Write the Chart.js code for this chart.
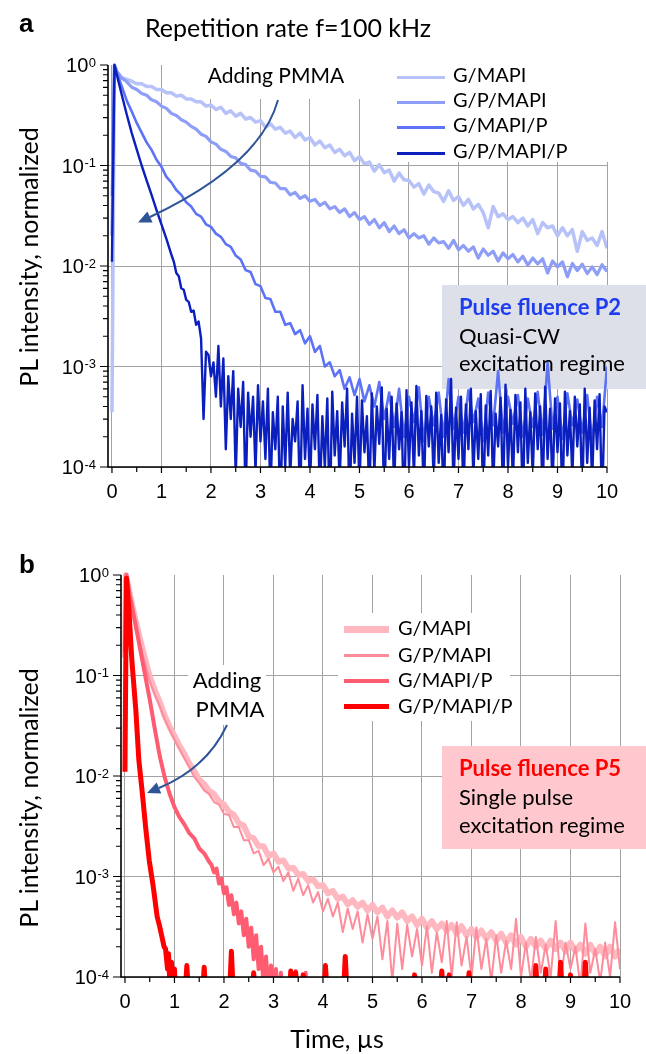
<!DOCTYPE html>
<html>
<head>
<meta charset="utf-8">
<script src="https://cdn.jsdelivr.net/npm/chart.js@4.4.1/dist/chart.umd.min.js"></script>
<style>
  body { margin: 0; width: 646px; height: 1054px; position: relative; background: #fff; overflow: hidden; font-family: Lato, sans-serif; }
  canvas { position: absolute; left: 0; }
  .t { position: absolute; white-space: nowrap; line-height: 1; color: #000; }
  .lab { font-family: "Liberation Sans", Arial, sans-serif; font-weight: bold; font-size: 26px; }
  .leg { font-size: 20px; }
  .smp { position: absolute; }
  .box { font-size: 22px; }
  .ytitle { font-size: 25px; transform: translate(-50%, -50%) rotate(-90deg); }
</style>
</head>
<body>
<canvas id="chartA" width="646" height="520" style="top:0"></canvas>
<canvas id="chartB" width="646" height="534" style="top:520px"></canvas>

<svg width="646" height="1054" style="position:absolute;left:0;top:0;pointer-events:none">
  <path d="M278,100 Q260,165 150,217" fill="none" stroke="#2f5597" stroke-width="2"/>
  <polygon points="138,222.6 152.6,222.4 147.4,211.6" fill="#2f5597"/>
  <path d="M227,725 Q207,768 159,788" fill="none" stroke="#2f5597" stroke-width="2"/>
  <polygon points="147,793 161.3,793.5 156.7,782.5" fill="#2f5597"/>
</svg>

<div class="t lab" style="left:19px;top:10px">a</div>
<div class="t lab" style="left:19px;top:551px">b</div>
<div class="t" style="left:145px;top:15px;font-size:25px">Repetition rate f=100 kHz</div>

<!-- panel a legend -->
<div class="smp" style="left:397px;top:75.5px;width:48px;height:3px;background:#b7c2f8"></div>
<div class="smp" style="left:397px;top:100.5px;width:48px;height:3px;background:#8e9df6"></div>
<div class="smp" style="left:397px;top:125.5px;width:48px;height:3px;background:#5d72f4"></div>
<div class="smp" style="left:397px;top:151.5px;width:48px;height:3px;background:#0b1fbe"></div>
<div class="t leg" style="left:453px;top:64px">G/MAPI</div>
<div class="t leg" style="left:453px;top:89px">G/P/MAPI</div>
<div class="t leg" style="left:453px;top:114px">G/MAPI/P</div>
<div class="t leg" style="left:453px;top:140px">G/P/MAPI/P</div>
<div class="t" style="left:176px;top:64px;width:200px;text-align:center;font-size:21px">Adding PMMA</div>
<div class="t box" style="left:459px;top:296px;font-weight:bold;color:#1e3cf0">Pulse fluence P2</div>
<div class="t box" style="left:459px;top:325px">Quasi-CW</div>
<div class="t box" style="left:459px;top:352px">excitation regime</div>
<div class="t ytitle" style="left:28px;top:257px">PL intensity, normalized</div>

<!-- panel b legend -->
<div class="smp" style="left:344px;top:625.5px;width:45px;height:7px;background:#ffb7c0"></div>
<div class="smp" style="left:344px;top:653.5px;width:45px;height:3px;background:#ff8c9b"></div>
<div class="smp" style="left:344px;top:678.7px;width:45px;height:4.5px;background:#ff5c72"></div>
<div class="smp" style="left:344px;top:703.5px;width:45px;height:5px;background:#ff0000"></div>
<div class="t leg" style="left:398px;top:617px">G/MAPI</div>
<div class="t leg" style="left:398px;top:644px">G/P/MAPI</div>
<div class="t leg" style="left:398px;top:669px">G/MAPI/P</div>
<div class="t leg" style="left:398px;top:695px">G/P/MAPI/P</div>
<div class="t" style="left:177px;top:669px;width:100px;text-align:center;font-size:22px">Adding</div>
<div class="t" style="left:180px;top:698px;width:100px;text-align:center;font-size:22px">PMMA</div>
<div class="t box" style="left:459px;top:757px;font-weight:bold;color:#ff0000">Pulse fluence P5</div>
<div class="t box" style="left:459px;top:786px">Single pulse</div>
<div class="t box" style="left:459px;top:814px">excitation regime</div>
<div class="t ytitle" style="left:28px;top:798px">PL intensity, normalized</div>
<div class="t" style="left:237px;top:1026px;width:200px;text-align:center;font-size:25px">Time, µs</div>

<script>
// ---- axis ticks ----
const xTickValues = [0, 1, 2, 3, 4, 5, 6, 7, 8, 9, 10];
const yTickValues = [1e-4, 1e-3, 1e-2, 1e-1, 1];
const yTickExps = ['-4', '-3', '-2', '-1', '0'];
const seriesNames = ['G/MAPI', 'G/P/MAPI', 'G/MAPI/P', 'G/P/MAPI/P'];

// time, µs
const tGrid = [
  0.1, 0.2, 0.3, 0.4, 0.5, 0.6, 0.7, 0.8, 0.9, 1,
  1.1, 1.2, 1.3, 1.4, 1.5, 1.6, 1.7, 1.8, 1.9, 2,
  2.1, 2.2, 2.3, 2.4, 2.5, 2.6, 2.7, 2.8, 2.9, 3,
  3.1, 3.2, 3.3, 3.4, 3.5, 3.6, 3.7, 3.8, 3.9, 4,
  4.1, 4.2, 4.3, 4.4, 4.5, 4.6, 4.7, 4.8, 4.9, 5,
  5.1, 5.2, 5.3, 5.4, 5.5, 5.6, 5.7, 5.8, 5.9, 6,
  6.1, 6.2, 6.3, 6.4, 6.5, 6.6, 6.7, 6.8, 6.9, 7,
  7.1, 7.2, 7.3, 7.4, 7.5, 7.6, 7.7, 7.8, 7.9, 8,
  8.1, 8.2, 8.3, 8.4, 8.5, 8.6, 8.7, 8.8, 8.9, 9,
  9.1, 9.2, 9.3, 9.4, 9.5, 9.6, 9.7, 9.8, 9.9, 10
];
const tFine = [
  1.25, 1.3, 1.35, 1.4, 1.45, 1.5, 1.55, 1.6, 1.65, 1.7, 1.75, 1.8, 1.85, 1.9, 1.95, 2,
  2.05, 2.1, 2.15, 2.2, 2.25, 2.3, 2.35, 2.4, 2.45, 2.5, 2.55, 2.6, 2.65, 2.7, 2.75, 2.8, 2.85, 2.9, 2.95, 3,
  3.05, 3.1, 3.15, 3.2, 3.25, 3.3, 3.35, 3.4, 3.45, 3.5, 3.55, 3.6, 3.65, 3.7, 3.75, 3.8, 3.85, 3.9, 3.95, 4,
  4.05, 4.1, 4.15, 4.2, 4.25, 4.3, 4.35, 4.4, 4.45, 4.5, 4.55, 4.6, 4.65, 4.7, 4.75, 4.8, 4.85, 4.9, 4.95, 5,
  5.05, 5.1, 5.15, 5.2, 5.25, 5.3, 5.35, 5.4, 5.45, 5.5, 5.55, 5.6, 5.65, 5.7, 5.75, 5.8, 5.85, 5.9, 5.95, 6,
  6.05, 6.1, 6.15, 6.2, 6.25, 6.3, 6.35, 6.4, 6.45, 6.5, 6.55, 6.6, 6.65, 6.7, 6.75, 6.8, 6.85, 6.9, 6.95, 7,
  7.05, 7.1, 7.15, 7.2, 7.25, 7.3, 7.35, 7.4, 7.45, 7.5, 7.55, 7.6, 7.65, 7.7, 7.75, 7.8, 7.85, 7.9, 7.95, 8,
  8.05, 8.1, 8.15, 8.2, 8.25, 8.3, 8.35, 8.4, 8.45, 8.5, 8.55, 8.6, 8.65, 8.7, 8.75, 8.8, 8.85, 8.9, 8.95, 9,
  9.05, 9.1, 9.15, 9.2, 9.25, 9.3, 9.35, 9.4, 9.45, 9.5, 9.55, 9.6, 9.65, 9.7, 9.75, 9.8, 9.85, 9.9, 9.95, 10
];

// ---- panel a: f = 100 kHz, fluence P2 ----
const aGMAPIhead = [[0, 3.5e-4], [0.05, 1]];
const aGMAPI = [
  0.85, 0.75, 0.72, 0.69, 0.65, 0.65, 0.61, 0.61, 0.57, 0.57,
  0.53, 0.53, 0.49, 0.50, 0.46, 0.46, 0.43, 0.43, 0.39, 0.40,
  0.36, 0.38, 0.33, 0.35, 0.31, 0.33, 0.29, 0.30, 0.27, 0.28,
  0.24, 0.26, 0.23, 0.24, 0.21, 0.22, 0.19, 0.21, 0.18, 0.19,
  0.16, 0.175, 0.15, 0.16, 0.135, 0.145, 0.125, 0.135, 0.112, 0.122,
  0.104, 0.108, 0.088, 0.102, 0.085, 0.09, 0.07, 0.084, 0.072, 0.071,
  0.061, 0.066, 0.052, 0.064, 0.055, 0.053, 0.044, 0.056, 0.045, 0.049,
  0.04, 0.046, 0.037, 0.041, 0.034, 0.024, 0.039, 0.031, 0.033, 0.029,
  0.031, 0.027, 0.03, 0.025, 0.029, 0.021, 0.027, 0.024, 0.025, 0.02,
  0.024, 0.02, 0.023, 0.014, 0.022, 0.018, 0.019, 0.016, 0.022, 0.015
];
const aGPMAPIhead = [[0, 0.02], [0.05, 1]];
const aGPMAPI = [
  0.86, 0.74, 0.68, 0.60, 0.57, 0.52, 0.50, 0.45, 0.43, 0.39,
  0.37, 0.33, 0.315, 0.285, 0.27, 0.245, 0.23, 0.205, 0.195, 0.172,
  0.163, 0.145, 0.138, 0.123, 0.119, 0.105, 0.102, 0.09, 0.088, 0.078,
  0.077, 0.068, 0.067, 0.059, 0.059, 0.051, 0.054, 0.047, 0.05, 0.044,
  0.046, 0.04, 0.043, 0.037, 0.039, 0.034, 0.037, 0.031, 0.034, 0.029,
  0.031, 0.026, 0.029, 0.024, 0.027, 0.022, 0.025, 0.021, 0.023, 0.019,
  0.021, 0.019, 0.02, 0.0165, 0.019, 0.017, 0.0175, 0.015, 0.018, 0.0145,
  0.016, 0.014, 0.0155, 0.012, 0.0148, 0.0128, 0.014, 0.0112, 0.0135, 0.0118,
  0.013, 0.011, 0.0125, 0.0102, 0.012, 0.0105, 0.0118, 0.0085, 0.0112, 0.0098,
  0.011, 0.0078, 0.0106, 0.009, 0.0104, 0.0084, 0.0098, 0.0082, 0.0103, 0.0088
];
const aGMAPIPhead = [[0, 0.05], [0.05, 1]];
const aGMAPIP = [
  0.84, 0.61, 0.44, 0.345, 0.265, 0.212, 0.17, 0.143, 0.114, 0.097,
  0.077, 0.068, 0.057, 0.051, 0.043, 0.039, 0.033, 0.031, 0.026, 0.0245,
  0.021, 0.0195, 0.0165, 0.0155, 0.0127, 0.0116, 0.0091, 0.0087, 0.0066, 0.0063,
  0.0048, 0.0047, 0.0035, 0.0035, 0.0026, 0.0027, 0.0021, 0.0023, 0.0017, 0.002,
  0.0014, 0.0016, 0.001, 0.0011, 0.0008, 0.00092, 0.0006, 0.00078, 0.00052, 0.00075,
  0.00045, 0.00065, 0.0004, 0.0007, 0.0003, 0.00055, 0.00025, 0.0006, 0.0002, 0.0005,
  0.00028, 0.00062, 0.00018, 0.0005, 0.00026, 0.00055, 0.0002, 0.00075, 0.00024, 0.0005,
  0.00022, 0.00058, 0.00028, 0.00048, 0.00018, 0.00055, 0.00026, 0.0009, 0.00022, 0.0005,
  0.00027, 0.00052, 0.0002, 0.00048, 0.00025, 0.00056, 0.00021, 0.0011, 0.00024, 0.0005,
  0.00019, 0.00054, 0.00026, 0.00047, 0.00022, 0.00052, 0.00018, 0.0005, 0.00025, 0.001
];
const aGPMAPIPhead = [[0, 0.011], [0.05, 1], [0.1, 0.79], [0.2, 0.5], [0.3, 0.32], [0.4, 0.21], [0.5, 0.145],
  [0.6, 0.1], [0.7, 0.071], [0.8, 0.051], [0.9, 0.036], [1, 0.026], [1.1, 0.0186], [1.2, 0.013]];
const aGPMAPIP = [
  0.011, 0.0085, 0.0079, 0.006, 0.0058, 0.0046, 0.0044, 0.0035, 0.0036, 0.0026, 0.0028, 0.0019, 0.0003, 0.0014, 0.0013, 0.0008,
  0.0011, 0.0005, 0.0016, 0.0004, 0.0012, 0.00015, 0.0008, 0.0003, 0.0009, 0.00008, 0.0006, 0.00025, 0.0007, 0.00005, 0.00055, 0.0002, 0.0005, 0.00009, 0.00065, 0.00018,
  4.5e-4, 1.2e-4, 6e-4, 0.5e-4, 3.5e-4, 1.5e-4, 5e-4, 0.3e-4, 4e-4, 1e-4, 5.5e-4, 0.8e-4, 3e-4, 1.8e-4, 4.5e-4, 0.4e-4, 6.5e-4, 1.2e-4, 3.8e-4, 0.6e-4,
  4.2e-4, 1.5e-4, 5.2e-4, 0.5e-4, 3.2e-4, 1e-4, 4.8e-4, 0.3e-4, 5.6e-4, 1.3e-4, 3.6e-4, 0.7e-4, 4.4e-4, 1.6e-4, 6e-4, 0.4e-4, 3.4e-4, 1.1e-4, 5e-4, 0.6e-4,
  4.6e-4, 1.4e-4, 3.2e-4, 0.5e-4, 5.4e-4, 0.9e-4, 4e-4, 1.7e-4, 6.2e-4, 0.4e-4, 3.8e-4, 1.2e-4, 5e-4, 0.6e-4, 4.3e-4, 1.5e-4, 3.5e-4, 0.3e-4, 5.8e-4, 1e-4,
  4.4e-4, 0.8e-4, 6.4e-4, 1.3e-4, 3.6e-4, 0.5e-4, 5.1e-4, 1.6e-4, 4e-4, 0.7e-4, 5.5e-4, 1.1e-4, 3.3e-4, 0.4e-4, 4.7e-4, 1.4e-4, 7.5e-4, 0.6e-4, 3.9e-4, 1.2e-4,
  5e-4, 0.5e-4, 4.2e-4, 1.5e-4, 6e-4, 0.8e-4, 3.6e-4, 1.2e-4, 5.3e-4, 0.4e-4, 4.1e-4, 1.3e-4, 5.7e-4, 0.6e-4, 3.4e-4, 1.6e-4, 4.9e-4, 0.5e-4, 6.6e-4, 1e-4,
  3.7e-4, 0.7e-4, 5.2e-4, 1.4e-4, 4.4e-4, 0.4e-4, 6e-4, 1.1e-4, 3.5e-4, 0.8e-4, 5.4e-4, 1.5e-4, 4e-4, 0.5e-4, 6.3e-4, 1.2e-4, 3.8e-4, 0.6e-4, 4.8e-4, 1.4e-4,
  4.3e-4, 0.4e-4, 5.6e-4, 1.3e-4, 3.6e-4, 0.8e-4, 5e-4, 1.6e-4, 4.2e-4, 0.5e-4, 6e-4, 1.1e-4, 3.9e-4, 0.7e-4, 4.6e-4, 1.5e-4, 5.3e-4, 0.4e-4, 4e-4, 3.5e-4
];

// ---- panel b: fluence P5 ----
const bGMAPIhead = [[0, 0.15], [0.02, 1]];
const bGMAPI = [
  0.63, 0.38, 0.235, 0.15, 0.098, 0.072, 0.055, 0.040, 0.031, 0.025,
  0.020, 0.0165, 0.0133, 0.0112, 0.0092, 0.0083, 0.0071, 0.0066, 0.0056, 0.0052,
  0.0044, 0.0041, 0.0034, 0.0032, 0.0025, 0.0024, 0.002, 0.002, 0.0016, 0.0017,
  0.0014, 0.00145, 0.0012, 0.00122, 0.00104, 0.00106, 0.0009, 0.00094, 0.0008, 0.00082,
  0.00068, 0.00072, 0.0006, 0.00063, 0.00053, 0.00058, 0.0005, 0.00055, 0.00046, 0.00052,
  0.00044, 0.00049, 0.0004, 0.00046, 0.00039, 0.00044, 0.00036, 0.0004, 0.00033, 0.00038,
  0.00031, 0.00036, 0.0003, 0.00034, 0.00029, 0.00033, 0.00027, 0.00032, 0.00026, 0.0003,
  0.00025, 0.00029, 0.00024, 0.00028, 0.00023, 0.00027, 0.00022, 0.00026, 0.00021, 0.00025,
  0.0002, 0.00024, 0.0002, 0.00023, 0.00019, 0.00023, 0.00019, 0.00022, 0.00018, 0.00022,
  0.00018, 0.00021, 0.00017, 0.00021, 0.00017, 0.0002, 0.00016, 0.0002, 0.00016, 0.00019
];
const bGPMAPIhead = [[0, 0.1], [0.02, 0.98]];
const bGPMAPI = [
  0.58, 0.34, 0.21, 0.135, 0.088, 0.065, 0.05, 0.037, 0.029, 0.023,
  0.0185, 0.015, 0.0122, 0.0098, 0.0085, 0.0072, 0.0066, 0.0055, 0.0052, 0.0042,
  0.0041, 0.0031, 0.0031, 0.0023, 0.0023, 0.0017, 0.0018, 0.0013, 0.0015, 0.0011,
  0.00125, 0.0009, 0.0011, 0.00072, 0.00095, 0.00065, 0.00082, 0.00055, 0.0007, 0.00045,
  0.0006, 0.0004, 0.00055, 0.00028, 0.00048, 0.0003, 0.00045, 0.00022, 0.00042, 0.00024,
  0.0004, 0.00015, 0.00036, 0.00009, 0.00034, 0.00012, 0.00033, 0.00016, 0.0003, 0.00013,
  0.00032, 0.00011, 0.00028, 0.00014, 0.00036, 0.0001, 0.00035, 0.00013, 0.00025, 0.0001,
  0.00031, 0.00012, 0.00024, 0.00009, 0.00026, 0.00011, 0.00023, 0.00012, 0.00038, 0.0001,
  0.00022, 0.00009, 0.00025, 0.00011, 0.00021, 0.0001, 0.00036, 0.00009, 0.00022, 0.00012,
  0.0002, 0.00008, 0.00034, 0.00011, 0.00019, 0.00009, 0.00022, 0.0001, 0.00035, 0.00012
];
const bGMAPIP = [
  [0, 0.17], [0.03, 1], [0.1, 0.62], [0.2, 0.35], [0.3, 0.19], [0.4, 0.105], [0.5, 0.058], [0.6, 0.03],
  [0.7, 0.016], [0.8, 0.0098], [0.9, 0.0067], [1, 0.0049], [1.1, 0.0039], [1.2, 0.0033], [1.3, 0.0027],
  [1.4, 0.0024], [1.5, 0.0019], [1.6, 0.0017], [1.7, 0.0014], [1.75, 0.0013], [1.8, 0.0011], [1.85, 0.0012],
  [1.9, 0.00085], [1.95, 0.00095], [2, 0.00068], [2.05, 0.00078], [2.1, 0.00052], [2.15, 0.00065],
  [2.2, 0.00042], [2.25, 0.00055], [2.3, 0.00034], [2.35, 0.00045], [2.4, 0.00026], [2.45, 0.00038],
  [2.5, 0.0002], [2.55, 0.00031], [2.6, 0.00015], [2.65, 0.00026], [2.7, 0.00012], [2.75, 0.0002],
  [2.8, 0.00008], [2.85, 0.00016], [2.9, 0.00007], [2.95, 0.00013], [3, 0.00006], [3.05, 0.00012],
  [3.1, 0.00005], [3.15, 0.00011], [3.2, 0.00004], [3.4, 0.00004], [3.45, 0.000115], [3.5, 0.00004],
  [3.6, 0.00004], [3.65, 0.00011], [3.7, 0.00004], [10, 0.00004]
];
const bGPMAPIP = [
  [0, 0.011], [0.03, 0.93], [0.08, 0.45], [0.14, 0.14], [0.22, 0.045], [0.28, 0.0145], [0.35, 0.0068],
  [0.42, 0.003], [0.49, 0.00145], [0.57, 0.0008], [0.65, 0.0004], [0.7, 0.00032], [0.74, 0.00026],
  [0.79, 0.0002], [0.82, 0.00019], [0.86, 0.00012], [0.88, 0.00017], [0.91, 0.00008], [0.94, 0.00014],
  [0.97, 0.00007], [1, 0.00012], [1.03, 0.00005], [1.2, 0.00005], [1.25, 0.00013], [1.3, 0.00005],
  [1.55, 0.00005], [1.6, 0.000125], [1.65, 0.00005], [2.1, 0.00005], [2.15, 0.00018], [2.2, 0.00005],
  [2.55, 0.00005], [2.6, 0.00011], [2.65, 0.00005], [3.3, 0.00005], [3.35, 0.000115], [3.4, 0.00005],
  [3.45, 0.00011], [3.5, 0.00005], [3.55, 0.00005], [3.6, 0.000105], [3.65, 0.00005], [4, 0.00005],
  [4.05, 0.00013], [4.1, 0.00005], [4.4, 0.00005], [4.45, 0.00016], [4.5, 0.00005], [5.8, 0.00005],
  [5.85, 0.000105], [5.9, 0.00005], [6.35, 0.00005], [6.4, 0.000115], [6.45, 0.00005], [6.5, 0.00005],
  [6.55, 0.000105], [6.6, 0.00005], [6.9, 0.00005], [6.95, 0.00011], [7, 0.00005], [8.25, 0.00005],
  [8.3, 0.00013], [8.35, 0.00005], [8.45, 0.00005], [8.5, 0.00012], [8.55, 0.00005], [8.75, 0.00005],
  [8.8, 0.00014], [8.85, 0.00005], [8.95, 0.00005], [9, 0.000105], [9.05, 0.00005], [9.25, 0.00005],
  [9.3, 0.00014], [9.35, 0.00005], [10, 0.00005]
];

const pairs = (list) => list.map(p => ({ x: p[0], y: p[1] }));
const joined = (head, times, vals) => pairs(head).concat(times.map((t, i) => ({ x: t, y: vals[i] })));

const gridColor = '#a2a2a2';

const panelDeco = {
  id: 'panelDeco',
  beforeDatasetsDraw(chart, args, opts) {
    const ctx = chart.ctx;
    ctx.save();
    opts.boxes.forEach(r => { ctx.fillStyle = r.color; ctx.fillRect(r.x, r.y, r.w, r.h); });
    ctx.restore();
  },
  afterDatasetsDraw(chart) {
    const { ctx, chartArea: a } = chart;
    const x = chart.scales.x, y = chart.scales.y;
    ctx.save();
    ctx.strokeStyle = '#000';
    ctx.lineWidth = 1.6;
    ctx.beginPath();
    ctx.moveTo(a.left, a.top);
    ctx.lineTo(a.left, a.bottom);
    ctx.lineTo(a.right, a.bottom);
    ctx.stroke();
    ctx.lineWidth = 1.2;
    ctx.beginPath();
    yTickValues.forEach((v, i) => {
      const py = y.getPixelForValue(v);
      ctx.moveTo(a.left - 8, py); ctx.lineTo(a.left, py);
      if (i < yTickValues.length - 1) {
        for (let m = 2; m <= 9; m++) {
          const q = y.getPixelForValue(m * v);
          ctx.moveTo(a.left - 5, q); ctx.lineTo(a.left, q);
        }
      }
    });
    xTickValues.forEach(v => {
      const px = x.getPixelForValue(v);
      ctx.moveTo(px, a.bottom); ctx.lineTo(px, a.bottom + 6);
      if (v < 10) {
        const h = x.getPixelForValue(v + 0.5);
        ctx.moveTo(h, a.bottom); ctx.lineTo(h, a.bottom + 5);
      }
    });
    ctx.stroke();
    // decade labels with superscript exponent
    ctx.fillStyle = '#000';
    ctx.textAlign = 'right';
    ctx.textBaseline = 'alphabetic';
    yTickValues.forEach((v, i) => {
      const py = y.getPixelForValue(v);
      const right = a.left - 12;
      ctx.font = '13px "Liberation Sans", Arial, sans-serif';
      ctx.fillText(yTickExps[i], right, py + 1.5);
      const w = ctx.measureText(yTickExps[i]).width;
      ctx.font = '20px "Liberation Sans", Arial, sans-serif';
      ctx.fillText('10', right - w - 0.5, py + 7);
    });
    ctx.restore();
  }
};

function line(label, points, color, width, order) {
  return {
    label, data: points, borderColor: color, backgroundColor: color, borderWidth: width,
    pointRadius: 0, tension: 0, borderJoinStyle: 'round', order,
    clip: { left: 0, top: 5, right: 0, bottom: 0 }
  };
}

function makeChart(id, datasets, area, boxes) {
  const canvas = document.getElementById(id);
  const W = canvas.width, H = canvas.height;
  return new Chart(canvas, {
    type: 'line',
    data: { datasets },
    options: {
      responsive: false,
      animation: false,
      devicePixelRatio: 1,
      parsing: false,
      normalized: true,
      events: [],
      layout: { padding: { top: area.top, left: 0, right: W - area.right, bottom: 0 } },
      scales: {
        x: {
          type: 'linear', min: -0.08, max: 10,
          afterBuildTicks: s => { s.ticks = xTickValues.map(v => ({ value: v })); },
          afterFit: s => { s.height = H - area.bottom; },
          ticks: { autoSkip: false, maxRotation: 0, padding: 13, color: '#000',
                   font: { family: '"Liberation Sans", Arial, sans-serif', size: 20 } },
          grid: { color: gridColor, lineWidth: 1, drawTicks: false },
          border: { display: false }
        },
        y: {
          type: 'logarithmic', min: 1e-4, max: 1,
          afterBuildTicks: s => { s.ticks = yTickValues.map(v => ({ value: v })); },
          afterFit: s => { s.width = area.left; },
          ticks: { display: false },
          grid: { color: c => (c.tick && c.tick.value === 1) ? 'rgba(0,0,0,0)' : gridColor, lineWidth: 1, drawTicks: false },
          border: { display: false }
        }
      },
      plugins: { legend: { display: false }, tooltip: { enabled: false }, panelDeco: { boxes } }
    },
    plugins: [panelDeco]
  });
}

makeChart('chartA', [
  line(seriesNames[0], joined(aGMAPIhead, tGrid, aGMAPI), '#b7c2f8', 3.5, 4),
  line(seriesNames[1], joined(aGPMAPIhead, tGrid, aGPMAPI), '#8e9df6', 3.2, 3),
  line(seriesNames[2], joined(aGMAPIPhead, tGrid, aGMAPIP), '#5d72f4', 2.6, 2),
  line(seriesNames[3], joined(aGPMAPIPhead, tFine, aGPMAPIP), '#0b1fbe', 2.4, 1)
], { left: 108, right: 607, top: 65, bottom: 467 }, [
  { x: 391, y: 62, w: 220, h: 100, color: '#ffffff' },
  { x: 188, y: 62, w: 190, h: 37, color: '#ffffff' },
  { x: 442, y: 285, w: 204, h: 104, color: '#dde0e9' }
]);

makeChart('chartB', [
  line(seriesNames[0], joined(bGMAPIhead, tGrid, bGMAPI), '#ffb7c0', 6, 4),
  line(seriesNames[1], joined(bGPMAPIhead, tGrid, bGPMAPI), '#ff8c9b', 2, 3),
  line(seriesNames[2], pairs(bGMAPIP), '#ff5c72', 4, 2),
  line(seriesNames[3], pairs(bGPMAPIP), '#ff0000', 5, 1)
], { left: 121, right: 620, top: 55, bottom: 457 }, [
  { x: 338, y: 93, w: 172, h: 108, color: '#ffffff' },
  { x: 188, y: 145, w: 78, h: 60, color: '#ffffff' },
  { x: 442, y: 226, w: 204, h: 103, color: '#ffc8ce' }
]);
</script>
</body>
</html>
